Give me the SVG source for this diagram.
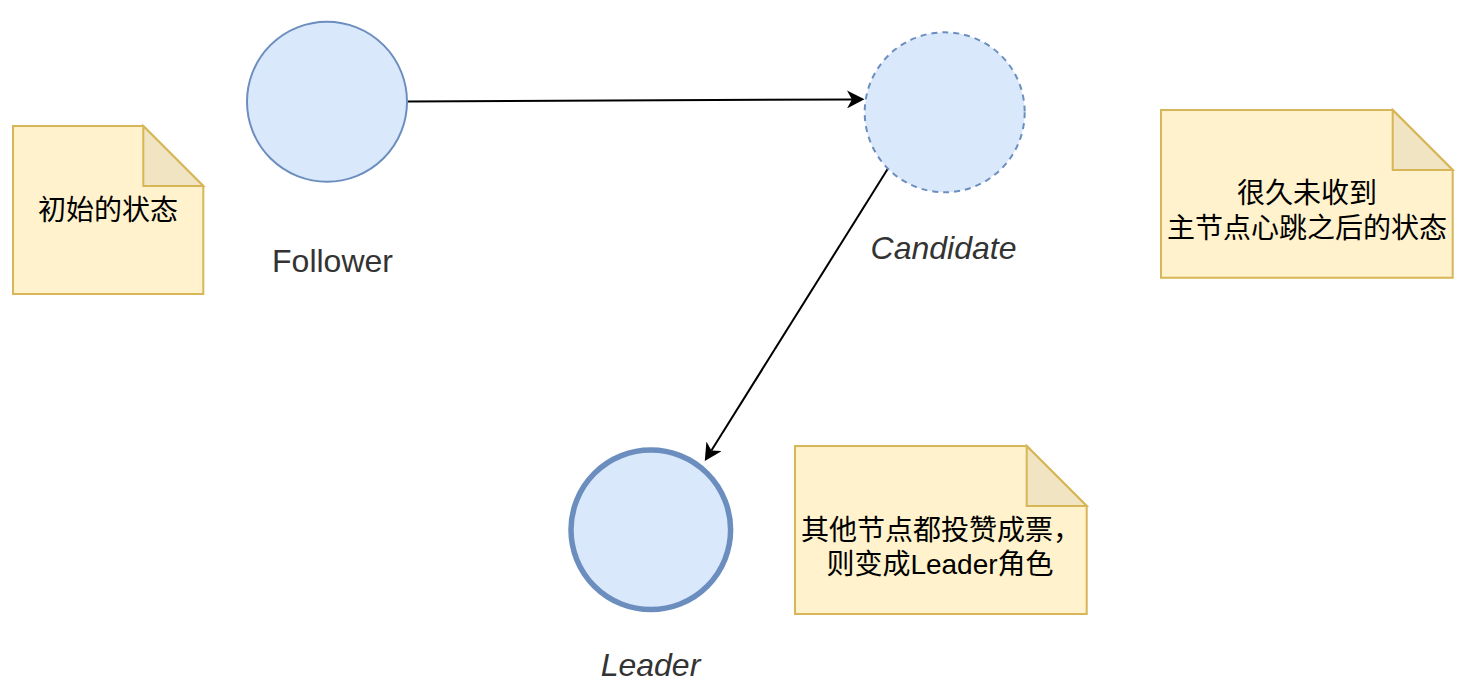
<svg xmlns="http://www.w3.org/2000/svg" width="1472" height="694" viewBox="0 0 1472 694">
<style>
.state{fill:#dae8fc;stroke:#6c8ebf;stroke-width:2}
.thick{stroke-width:5.5}
.dashed{stroke-dasharray:6 5}
.note{fill:#fff2cc;stroke:#d6b656;stroke-width:2;stroke-linejoin:miter}
.fold{fill:#f1e4c2;stroke:#d6b656;stroke-width:2}
.label{font-family:"Liberation Sans","Noto Sans",sans-serif;font-size:32px;fill:#333333;text-anchor:middle}
.italic{font-style:italic}
.ntext{font-family:"Liberation Sans","Noto Sans CJK SC",sans-serif;font-size:28px;fill:#000000;text-anchor:middle}
.edge{fill:none;stroke:#000000;stroke-width:2}
</style>
<defs>
<marker id="arrow" viewBox="0 0 18 18" markerWidth="18" markerHeight="18" markerUnits="userSpaceOnUse" refX="5" refY="9" orient="auto">
<path d="M0,0 L17.5,9 L0,18 L5,9 Z" fill="#000000"/>
</marker>
</defs>
<rect width="1472" height="694" fill="#ffffff"/>
<g id="connectors">
<path class="edge" d="M407.5,101.5 L852,99.4" marker-end="url(#arrow)"/>
<path class="edge" d="M888,168.5 L711.4,450.5" marker-end="url(#arrow)"/>
</g>
<g id="follower">
<circle class="state" cx="327" cy="101.7" r="80"/>
<text class="label" x="332.5" y="271.5">Follower</text>
</g>
<g id="candidate">
<circle class="state dashed" cx="944.7" cy="112.3" r="80"/>
<text class="label italic" x="943.5" y="259.3">Candidate</text>
</g>
<g id="leader">
<circle class="state thick" cx="650.8" cy="529.8" r="79.8"/>
<text class="label italic" x="650.5" y="676">Leader</text>
</g>
<g id="note-initial">
<path class="note" d="M13,126 H143.3 L203.3,186 V294 H13 Z"/>
<path class="fold" d="M143.3,126 V186 H203.3 Z"/>
<text class="ntext" x="108" y="219.5">初始的状态</text>
</g>
<g id="note-candidate">
<path class="note" d="M1161,110 H1392.7 L1452.7,170 V277.7 H1161 Z"/>
<path class="fold" d="M1392.7,110 V170 H1452.7 Z"/>
<text class="ntext" x="1307" y="203">很久未收到</text>
<text class="ntext" x="1307" y="237.5">主节点心跳之后的状态</text>
</g>
<g id="note-leader">
<path class="note" d="M795,446 H1026.7 L1086.7,506 V614 H795 Z"/>
<path class="fold" d="M1026.7,446 V506 H1086.7 Z"/>
<text class="ntext" x="941" y="539.5">其他节点都投赞成票，</text>
<text class="ntext" x="940" y="574">则变成Leader角色</text>
</g>
</svg>
